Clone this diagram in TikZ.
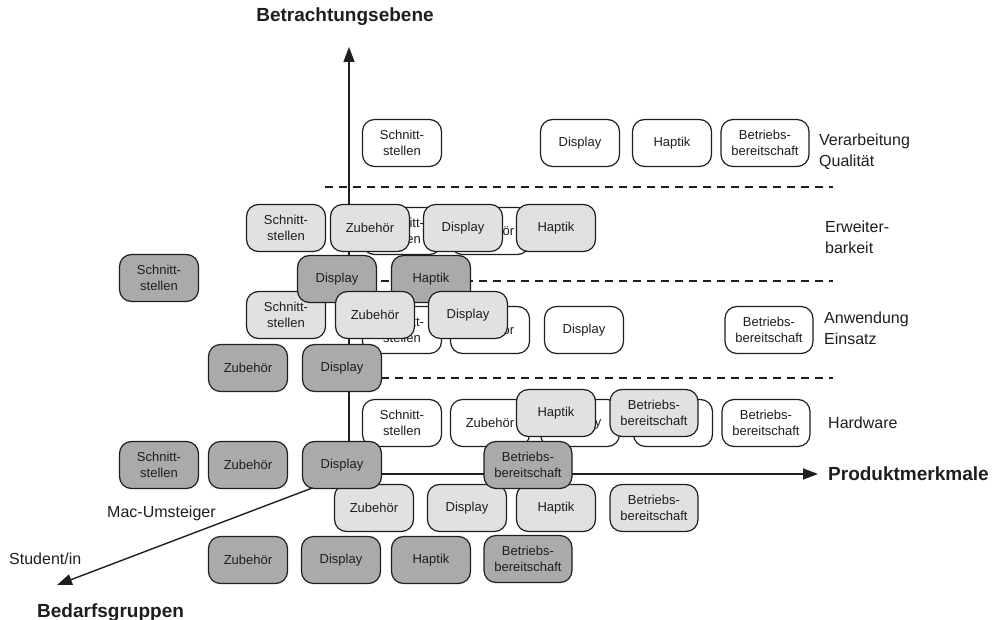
\documentclass[tikz,border=0pt]{standalone}
\usepackage{fontspec}
\setmainfont{Liberation Sans}
\usetikzlibrary{arrows.meta}
\definecolor{lgfill}{RGB}{225,225,225}
\definecolor{dgfill}{RGB}{170,170,170}
\definecolor{ink}{RGB}{30,30,30}
\begin{document}
\begin{tikzpicture}[x=1pt,y=-1pt,
  box/.style={draw=ink, line width=1.2pt, rounded corners=12pt, minimum width=79pt, minimum height=47pt, inner sep=0pt, align=center, font=\fontsize{13}{15.5}\selectfont, text=ink},
  wide/.style={minimum width=88pt},
  wbox/.style={box, fill=white},
  lbox/.style={box, fill=lgfill},
  dbox/.style={box, fill=dgfill},
  axisline/.style={draw=ink, line width=1.4pt, -{Triangle[length=15pt,width=11pt]}},
  sepline/.style={draw=ink, line width=1.3pt, dash pattern=on 8pt off 6pt},
  lab/.style={font=\fontsize{16}{21}\selectfont, align=left, anchor=west, inner sep=0pt, text=ink},
  titletext/.style={font=\fontsize{19}{23}\selectfont\bfseries, inner sep=0pt, text=ink}]
\useasboundingbox (0,0) rectangle (997,620);

% axes
\coordinate (O) at (349,474);
\coordinate (Ytip) at (349,47);
\coordinate (Xtip) at (818,474);
\coordinate (Ztip) at (57,585);
\draw[axisline] (O) -- (Ytip);
\draw[axisline] (O) -- (Xtip);
\draw[axisline] (O) -- (Ztip);

% dashed separators
\coordinate (d1a) at (325,187); \coordinate (d1b) at (833,187);
\coordinate (d2a) at (325,281); \coordinate (d2b) at (833,281);
\coordinate (d3a) at (325,378); \coordinate (d3b) at (833,378);
\draw[sepline] (d1a) -- (d1b);
\draw[sepline] (d2a) -- (d2b);
\draw[sepline] (d3a) -- (d3b);

% titles and labels
\node[titletext] (tY) at (345,17) {Betrachtungsebene};
\node[titletext, anchor=west] (tX) at (828,474) {Produktmerkmale};
\node[titletext, anchor=base west] (tZ) at (37,617) {Bedarfsgruppen};
\node[lab, anchor=base west] (gS) at (9,564) {Student/in};
\node[lab, anchor=base west] (gM) at (107,518) {Mac-Umsteiger};
\node[lab] (l1) at (819,152) {Verarbeitung\\Qualität};
\node[lab] (l2) at (825,237) {Erweiter-\\barkeit};
\node[lab] (l3) at (824,328) {Anwendung\\Einsatz};
\node[lab] (l4) at (828,423) {Hardware};

% white boxes
\node[wbox] (w1s) at (402,143) {Schnitt-\\stellen};
\node[wbox] (w1d) at (580,143) {Display};
\node[wbox] (w1h) at (672,143) {Haptik};
\node[wbox,wide] (w1b) at (765,143) {Betriebs-\\bereitschaft};
\node[wbox] (w2s) at (402,231) {Schnitt-\\stellen};
\node[wbox] (w2z) at (490,231) {Zubehör};
\node[wbox] (w3s) at (402,330) {Schnitt-\\stellen};
\node[wbox] (w3z) at (490,330) {Zubehör};
\node[wbox] (w3d) at (584,330) {Display};
\node[wbox,wide] (w3b) at (769,330) {Betriebs-\\bereitschaft};
\node[wbox] (w4s) at (402,423) {Schnitt-\\stellen};
\node[wbox] (w4z) at (490,423) {Zubehör};
\node[wbox] (w4d) at (580,423) {Display};
\node[wbox] (w4h) at (673,423) {Haptik};
\node[wbox,wide] (w4b) at (766,423) {Betriebs-\\bereitschaft};

% light gray boxes
\node[lbox] (l2s) at (286,228) {Schnitt-\\stellen};
\node[lbox] (l2z) at (370,228) {Zubehör};
\node[lbox] (l2d) at (463,228) {Display};
\node[lbox] (l2h) at (556,228) {Haptik};
\node[lbox] (l4h) at (556,413) {Haptik};
\node[lbox,wide] (l4b) at (654,413) {Betriebs-\\bereitschaft};
\node[lbox] (l5z) at (374,508) {Zubehör};
\node[lbox] (l5d) at (467,508) {Display};
\node[lbox] (l5h) at (556,508) {Haptik};
\node[lbox,wide] (l5b) at (654,508) {Betriebs-\\bereitschaft};
\node[lbox] (l3s) at (286,315) {Schnitt-\\stellen};

% dark gray boxes
\node[dbox] (d2s) at (159,278) {Schnitt-\\stellen};
\node[dbox] (d2d) at (337,279) {Display};
\node[dbox] (d2h) at (431,279) {Haptik};
\node[dbox] (d3z) at (248,368) {Zubehör};
\node[dbox] (d3d) at (342,368) {Display};
\node[dbox] (d4s) at (159,465) {Schnitt-\\stellen};
\node[dbox] (d4z) at (248,465) {Zubehör};
\node[dbox] (d4d) at (342,465) {Display};
\node[dbox,wide] (d4b) at (528,465) {Betriebs-\\bereitschaft};
\node[dbox] (d5z) at (248,560) {Zubehör};
\node[dbox] (d5d) at (341,560) {Display};
\node[dbox] (d5h) at (431,560) {Haptik};
\node[dbox,wide] (d5b) at (528,559) {Betriebs-\\bereitschaft};

% light gray boxes in front
\node[lbox] (l3z) at (375,315) {Zubehör};
\node[lbox] (l3d) at (468,315) {Display};
\end{tikzpicture}
\end{document}
